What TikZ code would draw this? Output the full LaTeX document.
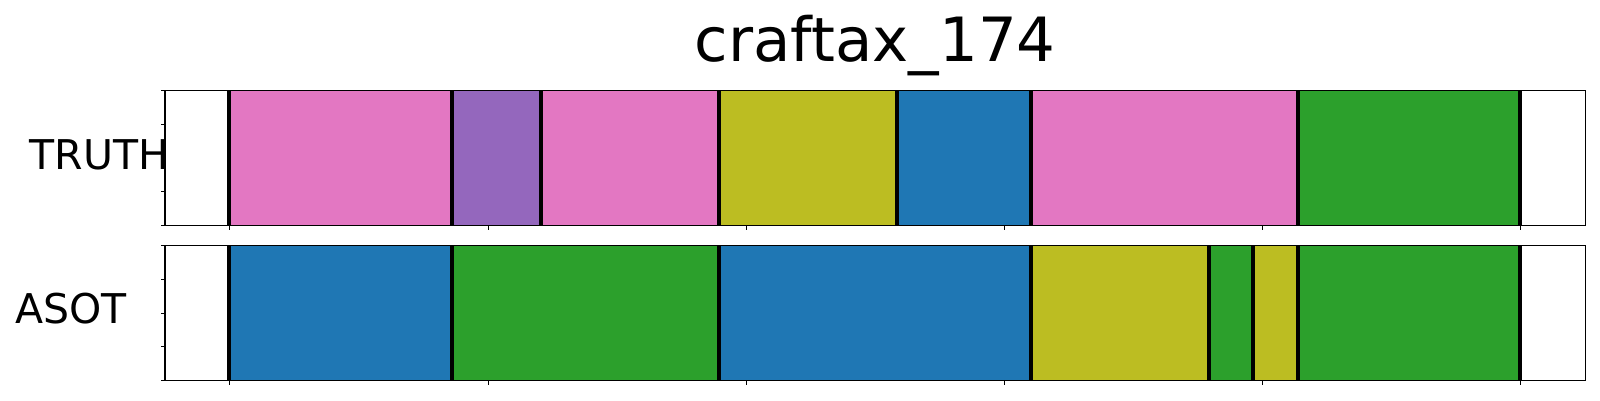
\documentclass[tikz,border=0pt]{standalone}
\usepackage{fontspec}
\setmainfont{DejaVu Sans}
\definecolor{tpink}{HTML}{E377C2}
\definecolor{tpurple}{HTML}{9467BD}
\definecolor{tolive}{HTML}{BCBD22}
\definecolor{tblue}{HTML}{1F77B4}
\definecolor{tgreen}{HTML}{2CA02C}
\begin{document}
\begin{tikzpicture}[x=1pt,y=-1pt,
  bound/.style={line width=4pt,black},
  frame/.style={line width=1.2pt,black},
  tick/.style={line width=0.9pt,black},
  lbl/.style={font=\fontsize{41}{41}\selectfont,inner sep=0pt,anchor=base west},
  ttl/.style={font=\fontsize{61}{61}\selectfont,inner sep=0pt,anchor=base}]
\useasboundingbox (0,0) rectangle (1600,400);
\fill[white] (0,0) rectangle (1600,400);
% TRUTH row
\foreach \a/\b/\c in {229/452/tpink,452/541/tpurple,541/718.7/tpink,718.7/897/tolive,897/1030.7/tblue,1030.7/1297.7/tpink,1297.7/1520/tgreen}
  \fill[\c] (\a,90.3) rectangle (\b,225.3);
\foreach \x in {229,452,541,718.7,897,1030.7,1297.7,1520}
  \draw[bound] (\x,90.3) -- (\x,225.3);
% ASOT row
\foreach \a/\b/\c in {229/452/tblue,452/718.7/tgreen,718.7/1030.7/tblue,1030.7/1209/tolive,1209/1253/tgreen,1253/1297.7/tolive,1297.7/1520/tgreen}
  \fill[\c] (\a,245.7) rectangle (\b,380.3);
\foreach \x in {229,452,718.7,1030.7,1209,1253,1297.7,1520}
  \draw[bound] (\x,245.7) -- (\x,380.3);
% frames
\draw[frame] (165,90.3) rectangle (1585.7,225.3);
\draw[frame] (165,245.7) rectangle (1585.7,380.3);
% ticks
\foreach \x in {229,488.3,746.3,1004.3,1262.3,1520.3} {
  \draw[tick] (\x,225.3) -- (\x,230);
  \draw[tick] (\x,380.3) -- (\x,385);
}
\foreach \y in {90.3,124,157.8,191.3,225.3}
  \draw[tick] (165,\y) -- (160.5,\y);
\foreach \y in {245.7,279.3,313,346.7,380.3}
  \draw[tick] (165,\y) -- (160.5,\y);
% labels
\node[lbl] (truth) at (29.5,169.3) {TRUTH};
\node[lbl] (asot) at (15,323.3) {ASOT};
\node[ttl] (title) at (875.3,61) {craftax\_174};
\end{tikzpicture}
\end{document}
